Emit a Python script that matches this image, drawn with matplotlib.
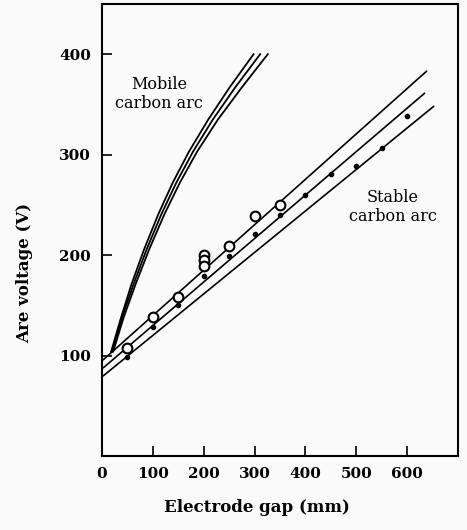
import numpy as np
import matplotlib
matplotlib.use("Agg")
import matplotlib.pyplot as plt

#---Data
# mobile carbon arc: three curves (same y, slightly different x)
mobile_y = [104, 137, 171, 206, 241, 272, 303, 335, 367, 400]
mobile_x_left = [18, 37, 58, 83, 111, 139, 171, 209, 251, 298]
mobile_x_mid = [20, 39, 62, 88, 117, 146, 179, 218, 262, 311]
mobile_x_right = [22, 42, 66, 93, 123, 153, 187, 228, 275, 326]

# stable carbon arc: three straight lines (start, end)
stable_x = [[3, 638], [3, 634], [3, 652]]
stable_y = [[96, 383], [88, 361], [80, 348]]

# open circles
open_x = [50, 100, 150, 200, 200, 200, 250, 300, 350]
open_y = [108, 138, 158, 200, 195, 189, 209, 239, 250]

# filled dots
dot_x = [50, 100, 150, 200, 250, 300, 350, 400, 450, 500, 550, 600]
dot_y = [99, 128, 150, 179, 199, 221, 240, 260, 281, 289, 307, 338]

x_ticks = [0, 100, 200, 300, 400, 500, 600]
y_ticks = [100, 200, 300, 400]

#---Plot
plt.rcParams['font.family'] = ['DejaVu Serif']

fig = plt.figure(figsize=(4.67, 5.30), dpi=100)
fig.patch.set_facecolor('#fafafa')
ax = fig.add_axes([0.2184, 0.1396, 0.7623, 0.8529])
ax.set_facecolor('#fafafa')

for xs in (mobile_x_left, mobile_x_mid, mobile_x_right):
    ax.plot(xs, mobile_y, color='black', lw=1.3)

for xs, ys in zip(stable_x, stable_y):
    ax.plot(xs, ys, color='black', lw=1.2)

ax.plot(open_x, open_y, 'o', ms=7, mfc='#fafafa', mec='black', mew=1.5)
ax.plot(dot_x, dot_y, 'o', ms=3, color='black')

ax.set_xlim(0, 700)
ax.set_ylim(0, 450)
ax.set_xticks(x_ticks)
ax.set_yticks(y_ticks)
ax.tick_params(direction='in', length=7, width=1.2, labelsize=11, pad=8)
for lab in ax.get_xticklabels() + ax.get_yticklabels():
    lab.set_fontweight('bold')
for sp in ax.spines.values():
    sp.set_linewidth(1.5)

ax.text(0.16, 0.80, "Mobile\ncarbon arc", transform=ax.transAxes, ha='center',
        va='center', fontsize=11.5, linespacing=1.15)
ax.text(0.817, 0.551, "Stable\ncarbon arc", transform=ax.transAxes, ha='center',
        va='center', fontsize=11.5, linespacing=1.15)

fig.text(0.55, 0.042, "Electrode gap (mm)", ha='center', va='center',
         fontsize=12, fontweight='bold')
fig.text(0.053, 0.485, "Are voltage (V)", ha='center', va='center',
         rotation=90, fontsize=12, fontweight='bold')

fig.savefig("out.png", dpi=100, facecolor=fig.get_facecolor())
